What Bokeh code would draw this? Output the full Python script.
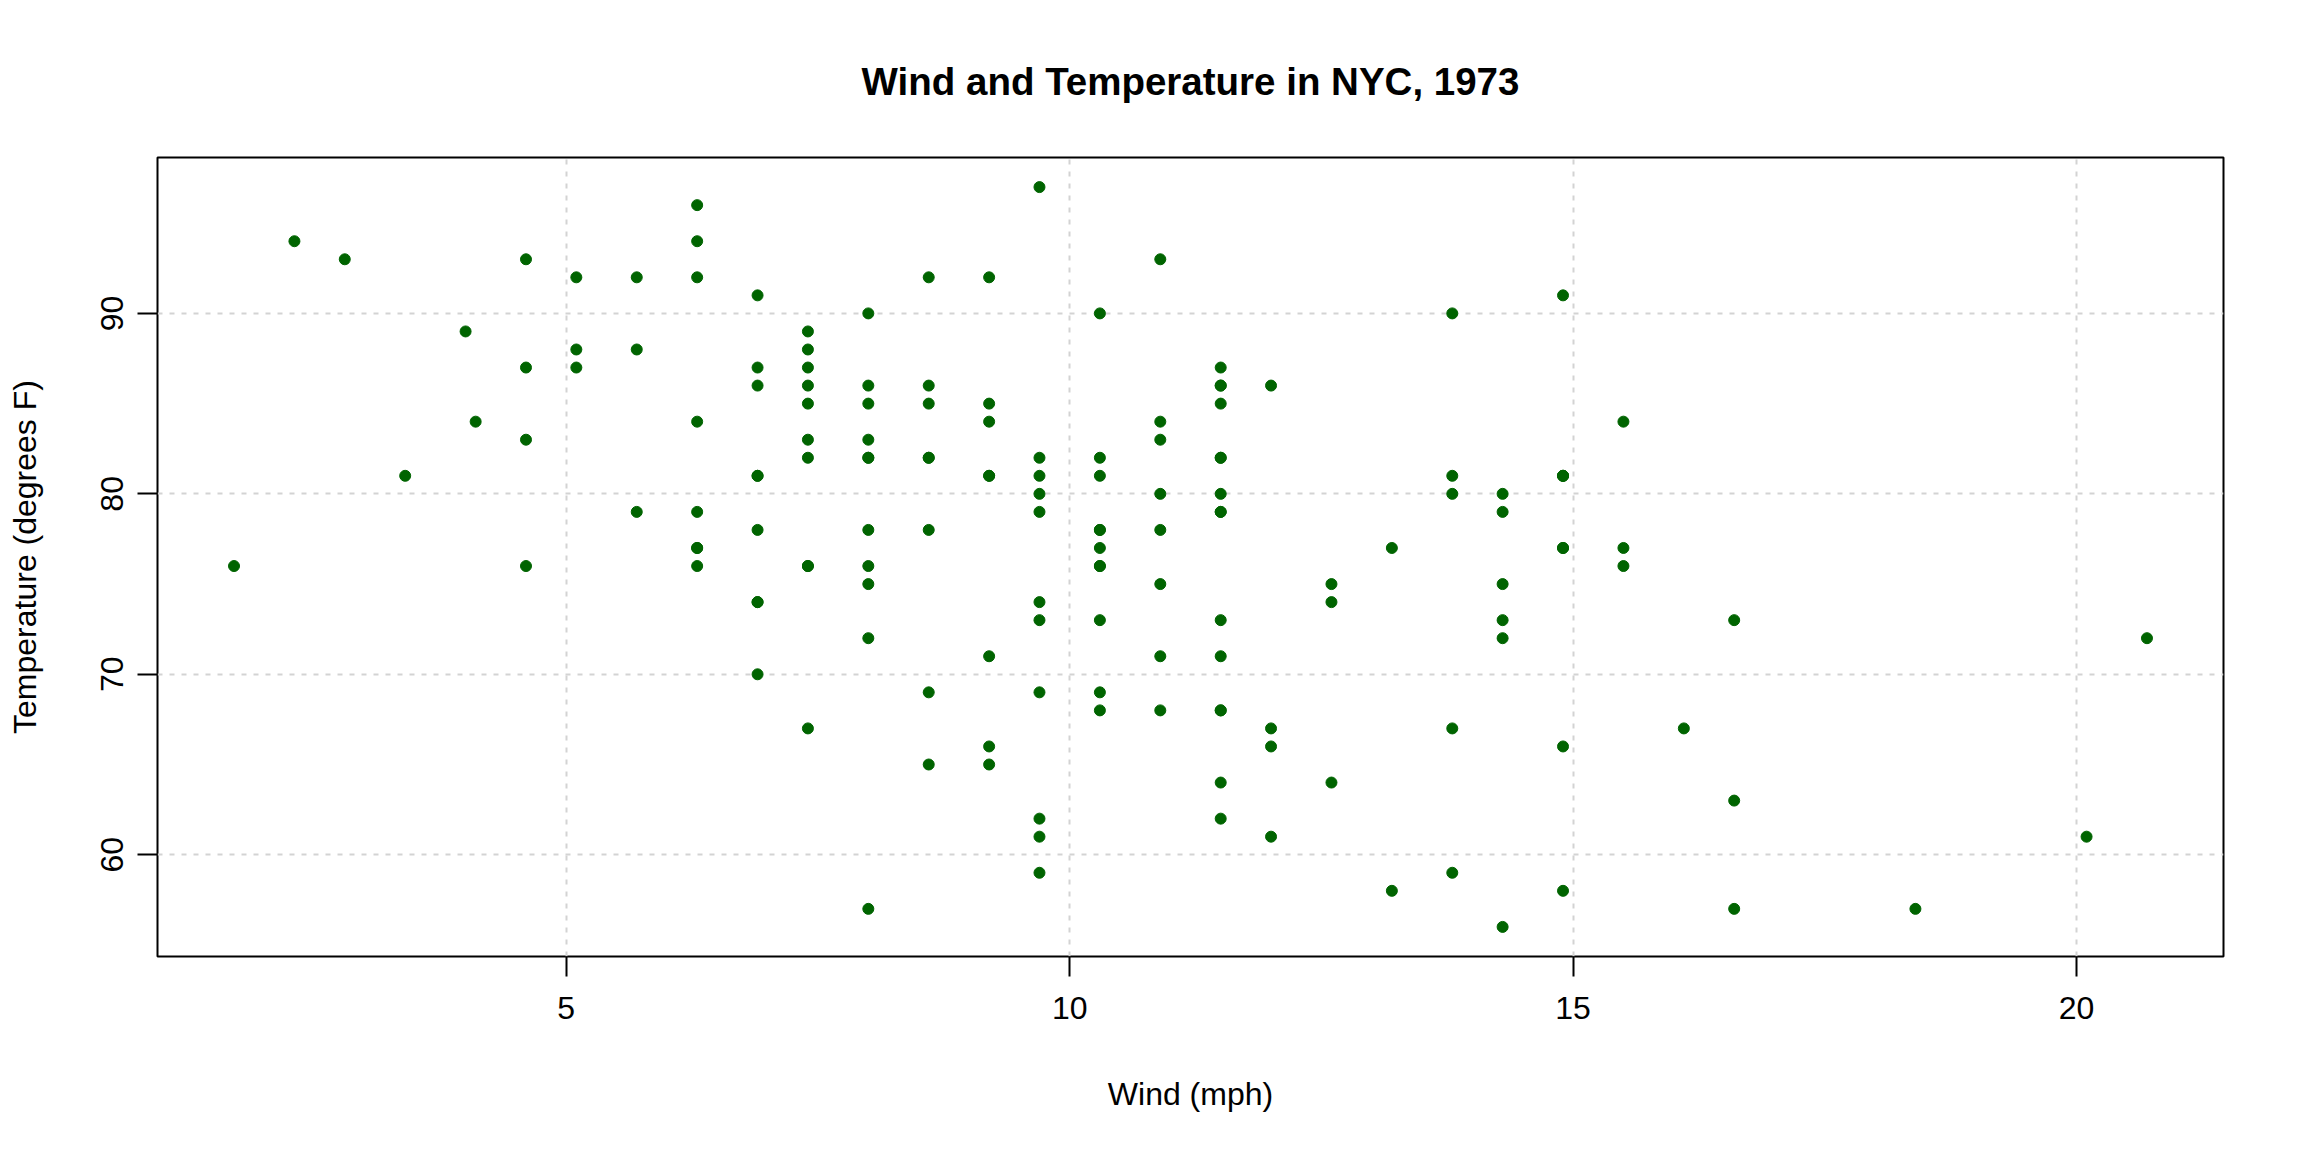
from bokeh.plotting import figure
from bokeh.models import FixedTicker, Range1d, ColumnDataSource
from bokeh.embed import file_html
from bokeh.resources import INLINE

wind = [7.4, 8.0, 12.6, 11.5, 14.3, 14.9, 8.6, 13.8, 20.1, 8.6, 6.9, 9.7, 9.2, 10.9, 13.2, 11.5, 12.0, 18.4, 11.5, 9.7,
        9.7, 16.6, 9.7, 12.0, 16.6, 14.9, 8.0, 12.0, 14.9, 5.7, 7.4, 8.6, 9.7, 16.1, 9.2, 8.6, 14.3, 9.7, 6.9, 13.8,
        11.5, 10.9, 9.2, 8.0, 13.8, 11.5, 14.9, 20.7, 9.2, 11.5, 10.3, 6.3, 1.7, 4.6, 6.3, 8.0, 8.0, 10.3, 11.5, 14.9,
        8.0, 4.1, 9.2, 9.2, 10.9, 4.6, 10.9, 5.1, 6.3, 5.7, 7.4, 8.6, 14.3, 14.9, 14.9, 14.3, 6.9, 10.3, 6.3, 5.1,
        11.5, 6.9, 9.7, 11.5, 8.6, 8.0, 8.6, 12.0, 7.4, 7.4, 7.4, 9.2, 6.9, 13.8, 7.4, 6.9, 7.4, 4.6, 4.0, 10.3,
        8.0, 8.6, 11.5, 11.5, 11.5, 9.7, 11.5, 10.3, 6.3, 7.4, 10.9, 10.3, 15.5, 14.3, 12.6, 9.7, 3.4, 8.0, 5.7, 9.7,
        2.3, 6.3, 6.3, 6.9, 5.1, 2.8, 4.6, 7.4, 15.5, 10.9, 10.3, 10.9, 9.7, 14.9, 15.5, 6.3, 10.9, 11.5, 6.9, 13.8,
        10.3, 10.3, 8.0, 12.6, 9.2, 10.3, 10.3, 16.6, 6.9, 13.2, 14.3, 8.0, 11.5]

temp = [67, 72, 74, 62, 56, 66, 65, 59, 61, 69, 74, 69, 66, 68, 58, 64, 66, 57, 68, 62,
        59, 73, 61, 61, 57, 58, 57, 67, 81, 79, 76, 78, 74, 67, 84, 85, 79, 82, 87, 90,
        87, 93, 92, 82, 80, 79, 77, 72, 65, 73, 76, 77, 76, 76, 76, 75, 78, 73, 80, 77,
        83, 84, 85, 81, 84, 83, 83, 88, 92, 92, 89, 82, 73, 81, 91, 80, 81, 82, 84, 87,
        85, 74, 81, 82, 86, 85, 82, 86, 88, 86, 83, 81, 81, 81, 82, 86, 85, 87, 89, 90,
        90, 92, 86, 86, 82, 80, 79, 77, 79, 76, 78, 78, 77, 72, 75, 79, 81, 86, 88, 97,
        94, 96, 94, 91, 92, 93, 93, 87, 84, 80, 78, 75, 73, 81, 76, 77, 71, 71, 78, 67,
        76, 68, 82, 64, 71, 81, 69, 63, 70, 77, 75, 76, 68]

x_ticks = [5, 10, 15, 20]
y_ticks = [60, 70, 80, 90]

title_text = "Wind and Temperature in NYC, 1973"
x_label = "Wind (mph)"
y_label = "Temperature (degrees F)"

FONT = "Liberation Sans"

# R-style 4% range extension
xr = max(wind) - min(wind)
yr = max(temp) - min(temp)
x_range = Range1d(min(wind) - 0.04 * xr, max(wind) + 0.04 * xr)
y_range = Range1d(min(temp) - 0.04 * yr, max(temp) + 0.04 * yr)

p = figure(width=2288, height=1136, output_backend="svg", toolbar_location=None,
           x_range=x_range, y_range=y_range,
           min_border_left=157, min_border_right=65, min_border_top=157, min_border_bottom=180)

p.title.text = title_text
p.title.align = "center"
p.title.text_font = FONT
p.title.text_font_size = "38.5px"
p.title.text_font_style = "bold"
p.title.text_color = "black"
p.title.standoff = 109

p.outline_line_color = "black"
p.outline_line_width = 2
p.outline_line_alpha = 1.0
p.background_fill_color = "white"
p.border_fill_color = "white"

for ax, ticks, lab in ((p.xaxis[0], x_ticks, x_label), (p.yaxis[0], y_ticks, y_label)):
    ax.ticker = FixedTicker(ticks=ticks)
    ax.minor_tick_line_color = None
    ax.major_tick_in = 0
    ax.major_tick_out = 20
    ax.major_tick_line_width = 2
    ax.major_tick_line_color = "black"
    ax.axis_line_color = None
    ax.major_label_text_font = FONT
    ax.major_label_text_font_size = "32px"
    ax.major_label_text_color = "black"
    ax.axis_label = lab
    ax.axis_label_text_font = FONT
    ax.axis_label_text_font_size = "32px"
    ax.axis_label_text_font_style = "normal"
    ax.axis_label_text_color = "black"

p.xaxis.major_label_standoff = 20
p.xaxis.axis_label_standoff = 54
p.yaxis.major_label_orientation = "vertical"
p.yaxis.major_label_standoff = 14
p.yaxis.axis_label_standoff = 56

p.xgrid.ticker = FixedTicker(ticks=x_ticks)
p.ygrid.ticker = FixedTicker(ticks=y_ticks)
for g in (p.xgrid[0], p.ygrid[0]):
    g.grid_line_color = "#D3D3D3"
    g.grid_line_width = 2
    g.grid_line_dash = "5 7"

src = ColumnDataSource(dict(wind=wind, temp=temp))
p.scatter("wind", "temp", source=src, size=11, fill_color="#006400", line_color="#006400")

open("out.html", "w").write(file_html(p, INLINE))
